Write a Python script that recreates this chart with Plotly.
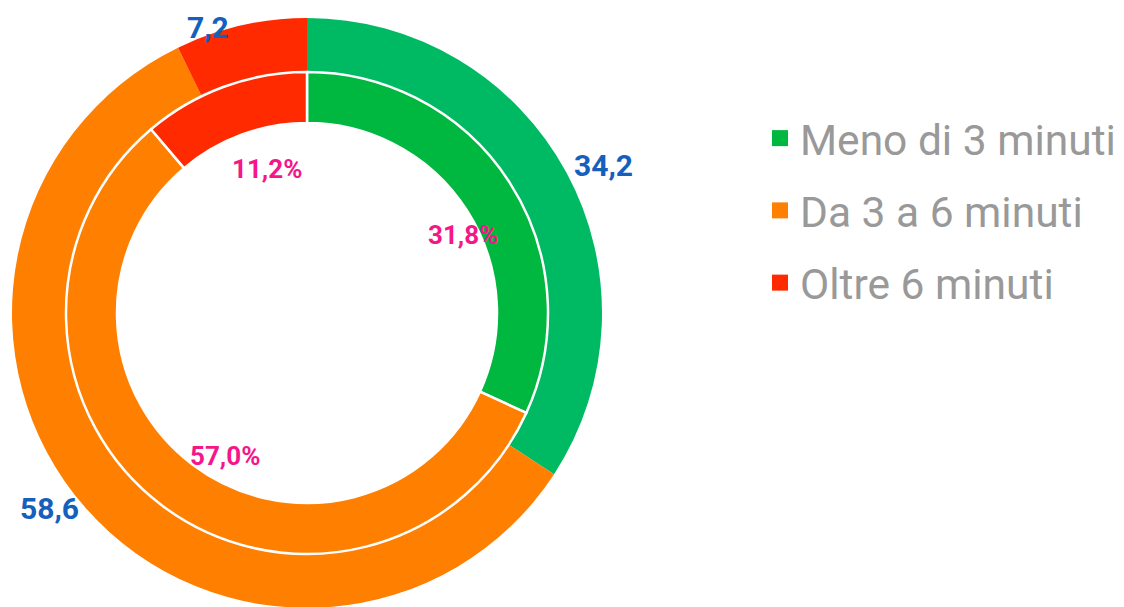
import math
import plotly.graph_objects as go

# data
categorie = ["Meno di 3 minuti", "Da 3 a 6 minuti", "Oltre 6 minuti"]
valori_esterni = [34.2, 58.6, 7.2]
valori_interni = [31.8, 57.0, 11.2]

colori_esterni = ["#00BA63", "#FF7F00", "#FF2A00"]
colori_interni = ["#00B740", "#FF7F00", "#FF2A00"]

W, H = 1124, 607
# the page body adds an 8px margin, so work in figure px
cx, cy = 299, 305
R_OUT, R_MID, R_HOLE = 295, 241, 190


def to_paper(px, py):
    return px / W, 1 - py / H


def mid_angles(vals):
    tot = sum(vals)
    cum = 0
    out = []
    for v in vals:
        out.append((cum + v / 2) / tot * 2 * math.pi)
        cum += v
    return out


fig = go.Figure()

# Outer ring
fig.add_trace(
    go.Pie(
        labels=categorie,
        values=valori_esterni,
        sort=False,
        direction="clockwise",
        rotation=0,
        hole=R_MID / R_OUT,
        domain=dict(
            x=[(cx - R_OUT) / W, (cx + R_OUT) / W],
            y=[(H - cy - R_OUT) / H, (H - cy + R_OUT) / H],
        ),
        marker=dict(colors=colori_esterni, line=dict(width=0)),
        textinfo="none",
        showlegend=False,
        hoverinfo="skip",
    )
)

# Inner ring
fig.add_trace(
    go.Pie(
        labels=categorie,
        values=valori_interni,
        sort=False,
        direction="clockwise",
        rotation=0,
        hole=R_HOLE / R_MID,
        domain=dict(
            x=[(cx - R_MID) / W, (cx + R_MID) / W],
            y=[(H - cy - R_MID) / H, (H - cy + R_MID) / H],
        ),
        marker=dict(colors=colori_interni, line=dict(color="white", width=2.5)),
        textinfo="none",
        showlegend=False,
        hoverinfo="skip",
    )
)

# Outer values, just outside the ring at each slice's mid-angle
for v, a in zip(valori_esterni, mid_angles(valori_esterni)):
    px = cx + (R_OUT + 6) * math.sin(a)
    py = cy - (R_OUT + 6) * math.cos(a) - 4
    if py < 20:  # keep it on the page
        py = 20
        px -= 8
    x, y = to_paper(px, py)
    fig.add_annotation(
        x=x, y=y, xref="paper", yref="paper",
        xanchor="left" if math.sin(a) > 0 else "right",
        yanchor="middle",
        text=f"{v:.1f}".replace(".", ","),
        showarrow=False,
        font=dict(family="Roboto", size=30, color="#1560BD", weight=700),
    )

# Inner percentages, inside the hole
for v, a in zip(valori_interni, mid_angles(valori_interni)):
    x, y = to_paper(cx + 165 * math.sin(a), cy - 165 * math.cos(a))
    fig.add_annotation(
        x=x, y=y, xref="paper", yref="paper",
        xanchor="center", yanchor="middle",
        xshift=17, yshift=-11,
        text=f"{v:.1f}%".replace(".", ","),
        showarrow=False,
        font=dict(family="Roboto", size=26, color="#F5168A", weight=700),
    )

# Legend entries
for i, (nome, col) in enumerate(zip(categorie, colori_interni)):
    fig.add_trace(
        go.Scatter(
            x=[None], y=[None], mode="markers", name=nome,
            legendgroup=f"g{i}",
            marker=dict(symbol="square", size=16, color=col),
        )
    )

fig.update_layout(
    width=W,
    height=H,
    margin=dict(l=0, r=0, t=0, b=0),
    paper_bgcolor="white",
    plot_bgcolor="white",
    xaxis=dict(visible=False),
    yaxis=dict(visible=False),
    legend=dict(
        x=752 / W,
        y=1 - 96 / H,
        xanchor="left",
        yanchor="top",
        font=dict(family="Roboto", size=42.5, color="#999999"),
        tracegroupgap=14,
        itemsizing="trace",
        bgcolor="rgba(0,0,0,0)",
    ),
)

fig.write_html("out.html")
